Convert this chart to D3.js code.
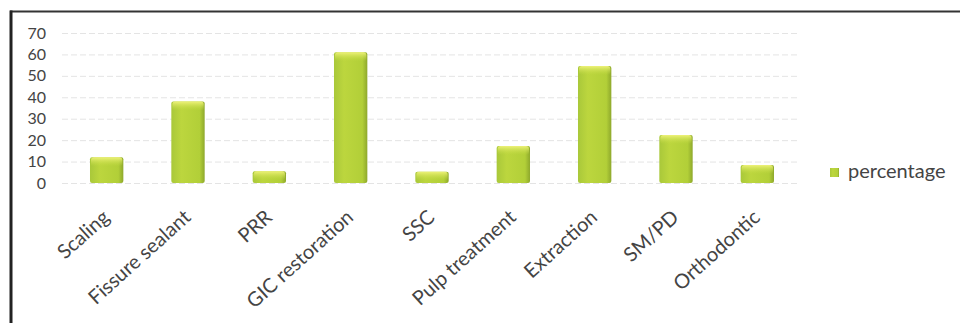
<!DOCTYPE html>
<html>
<head>
<meta charset="utf-8">
<script src="https://cdn.jsdelivr.net/npm/d3@7"></script>
<style>
  body { margin: 0; background: #fff; }
  text { font-family: Lato, "Open Sans", sans-serif; }
</style>
</head>
<body>
<div id="canvas"></div>
<script>
const categories = ["Scaling", "Fissure sealant", "PRR", "GIC restoration", "SSC",
  "Pulp treatment", "Extraction", "SM/PD", "Orthodontic"];
const percentage = [12, 38, 5.5, 61, 5.3, 17.3, 54.6, 22.4, 8.4];
const yTicks = [0, 10, 20, 30, 40, 50, 60, 70];
const seriesName = "percentage";

const width = 960;
const height = 323;
const margin = { top: 33, left: 66, bottom: 140, right: 162 };
const iwidth = width - margin.left - margin.right;
const iheight = height - margin.top - margin.bottom;

const svg = d3.select("#canvas").append("svg")
  .attr("width", width)
  .attr("height", height);

// bar shading
const defs = svg.append("defs");
const grad = defs.append("linearGradient").attr("id", "barGrad")
  .attr("x1", 0).attr("x2", 1).attr("y1", 0).attr("y2", 0);
grad.append("stop").attr("offset", "0%").attr("stop-color", "#a9c83a");
grad.append("stop").attr("offset", "30%").attr("stop-color", "#bcd63e");
grad.append("stop").attr("offset", "85%").attr("stop-color", "#b2cf38");
grad.append("stop").attr("offset", "100%").attr("stop-color", "#8ea82c");
const topGrad = defs.append("linearGradient").attr("id", "topGrad")
  .attr("x1", 0).attr("x2", 0).attr("y1", 0).attr("y2", 1);
topGrad.append("stop").attr("offset", "0%").attr("stop-color", "#eef27a");
topGrad.append("stop").attr("offset", "100%").attr("stop-color", "#c6dc44").attr("stop-opacity", 0);

// frame (top and left only)
svg.append("line").attr("x1", 10).attr("x2", width).attr("y1", 11.5).attr("y2", 11.5)
  .attr("stroke", "#333").attr("stroke-width", 2);
svg.append("line").attr("x1", 11).attr("x2", 11).attr("y1", 10.5).attr("y2", height)
  .attr("stroke", "#222").attr("stroke-width", 3);

const g = svg.append("g").attr("transform", `translate(${margin.left},${margin.top})`);

const x = d3.scaleBand().domain(categories).range([0, iwidth]).paddingInner(0.59).paddingOuter(0.295);
const y = d3.scaleLinear().domain([0, 70]).range([iheight, 0]);

// gridlines
g.append("g").selectAll("line").data(yTicks).join("line")
  .attr("x1", -4).attr("x2", iwidth)
  .attr("y1", d => y(d) + 0.5).attr("y2", d => y(d) + 0.5)
  .attr("stroke", "#e4e4e4").attr("stroke-dasharray", "6,3");

// y axis labels
const yAxis = g.append("g").call(d3.axisLeft(y).tickValues(yTicks).tickSize(0).tickPadding(20));
yAxis.select(".domain").remove();
yAxis.selectAll("text").attr("font-size", 16).attr("fill", "#444")
  .attr("font-family", "Lato, 'Open Sans', sans-serif");

// bars
const bars = g.append("g").selectAll("g").data(percentage).join("g");
bars.append("rect")
  .attr("x", (d, i) => x(categories[i]))
  .attr("y", d => y(d))
  .attr("width", x.bandwidth())
  .attr("height", d => y(0) - y(d))
  .attr("rx", 2)
  .attr("fill", "url(#barGrad)");
bars.append("rect")
  .attr("x", (d, i) => x(categories[i]) + 1)
  .attr("y", d => y(d))
  .attr("width", x.bandwidth() - 2)
  .attr("height", d => Math.min(9, y(0) - y(d)))
  .attr("rx", 3)
  .attr("fill", "url(#topGrad)");

// x axis labels
const xAxis = g.append("g").attr("transform", `translate(0,${iheight})`)
  .call(d3.axisBottom(x).tickSize(0).tickPadding(0));
xAxis.select(".domain").remove();
xAxis.selectAll("text")
  .attr("font-size", 20).attr("fill", "#444")
  .attr("font-family", "Lato, 'Open Sans', sans-serif")
  .attr("text-anchor", "end")
  .attr("dy", "0")
  .attr("transform", "translate(4,36) rotate(-42)");

// legend
const legend = svg.append("g").attr("transform", "translate(830,168)");
legend.append("rect").attr("width", 9).attr("height", 9).attr("fill", "url(#barGrad)");
legend.append("text").attr("x", 18).attr("y", 10).text(seriesName)
  .attr("font-size", 20).attr("fill", "#444");
</script>
</body>
</html>
